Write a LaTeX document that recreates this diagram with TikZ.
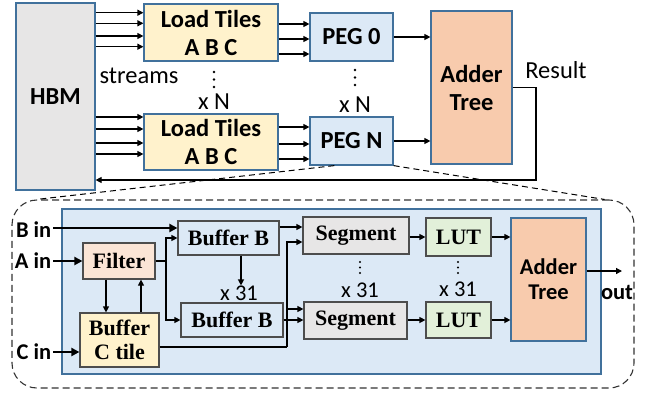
\documentclass[tikz,border=0pt]{standalone}
\usepackage{fontspec}
\usetikzlibrary{arrows.meta}
\setmainfont{Carlito}
\newfontfamily\peserif{Liberation Serif}

\definecolor{hbmgray}{HTML}{E7E6E6}
\definecolor{tileyellow}{HTML}{FFF2CC}
\definecolor{peblue}{HTML}{DCE9F6}
\definecolor{addorange}{HTML}{F8CBAD}
\definecolor{filterpink}{HTML}{FBE5D6}
\definecolor{lutgreen}{HTML}{E2F0D9}
\definecolor{edgeblue}{HTML}{41719C}
\definecolor{edgegray}{HTML}{4D4D4D}

\begin{document}
\begin{tikzpicture}[
    x=1pt, y=-1pt,
    >={Triangle[length=6pt, width=6pt]},
    topbox/.style={draw=edgeblue, line width=1.2pt, inner sep=0pt, align=center,
        font=\fontsize{24.5}{28}\selectfont\bfseries},
    pebox/.style={draw=edgegray, line width=1.2pt, inner sep=0pt, align=center,
        font=\fontsize{22}{24}\selectfont\peserif\bfseries},
    toplabel/.style={inner sep=0pt, font=\fontsize{24.5}{26}\selectfont},
    sublabel/.style={inner sep=0pt, font=\fontsize{22.5}{24}\selectfont},
    inlabel/.style={inner sep=1.5pt, anchor=east, font=\fontsize{22.5}{24}\selectfont\bfseries},
    link/.style={->, line width=1.2pt},
    feed/.style={-{Triangle[length=8pt, width=8pt]}, line width=2.8pt},
    zoomline/.style={line width=1pt, dash pattern=on 6pt off 4pt}
]
    \useasboundingbox (0,0) rectangle (650,397);

    % Top level: memory, loaders, PEGs, reduction
    \node[topbox, fill=hbmgray, minimum width=79pt, minimum height=187pt] (hbm) at (55.5,96.5) {HBM};
    \node[topbox, fill=tileyellow, minimum width=134pt, minimum height=57pt] (lt0) at (211,32.5) {Load Tiles\\A B C};
    \node[topbox, fill=tileyellow, minimum width=134pt, minimum height=56pt] (ltN) at (211,142) {Load Tiles\\A B C};
    \node[topbox, fill=peblue, minimum width=83pt, minimum height=48pt] (peg0) at (351.5,37) {PEG 0};
    \node[topbox, fill=peblue, minimum width=83pt, minimum height=48pt] (pegN) at (351.5,141) {PEG N};
    \node[topbox, fill=addorange, minimum width=81pt, minimum height=153pt] (add0) at (471.5,87.5) {Adder\\Tree};

    \node[toplabel] (streams) at (139,76) {streams};
    \node[toplabel] (repN0) at (214,102) {x N};
    \node[toplabel] (repN1) at (355,105) {x N};
    \node[toplabel] (result) at (556,70) {Result};
    \foreach \d in {0,7.5,15} {
        \fill (214,72+\d) circle (1.3pt);
        \fill (355,70+\d) circle (1.3pt);
    }

    % Streams out of HBM
    \foreach \y in {12.7,23.3,36,46.7}
        \draw[link] (hbm.east |- 0,\y) -- (lt0.west |- 0,\y);
    \foreach \y in {117,129,143,154}
        \draw[link] (hbm.east |- 0,\y) -- (ltN.west |- 0,\y);

    % Tiles into the PEGs
    \foreach \y in {24,39,54}
        \draw[link] (lt0.east |- 0,\y) -- (peg0.west |- 0,\y);
    \foreach \y in {127,144,159}
        \draw[link] (ltN.east |- 0,\y) -- (pegN.west |- 0,\y);
    \draw[link] (peg0.east) -- (add0.west |- peg0.east);
    \draw[link] (pegN.east) -- (add0.west |- pegN.east);

    % Result back to HBM
    \coordinate (ret) at (536,180);
    \draw[link] (add0.east) -| (ret) -- (hbm.east |- ret);

    % Inside one PEG
    \node[draw=black!80, line width=1.1pt, dash pattern=on 7pt off 4pt, rounded corners=25pt,
        minimum width=622pt, minimum height=188pt] (zoom) at (323,294) {};
    \draw[zoomline] ([xshift=25pt]pegN.south west) -- ([xshift=25pt]zoom.north west);
    \draw[zoomline] (pegN.south east) -- ([xshift=-30pt]zoom.north east);
    \node[draw=edgeblue, fill=peblue, line width=1.2pt, minimum width=539pt, minimum height=165pt] (pe) at (331.5,291.5) {};

    \node[pebox, fill=filterpink, minimum width=72pt, minimum height=36pt] (filter) at (119,261) {Filter};
    \node[pebox, fill=tileyellow, minimum width=79pt, minimum height=54pt] (bufC) at (119.5,340) {Buffer\\C tile};
    \node[pebox, fill=peblue, minimum width=101pt, minimum height=34pt] (bufB0) at (228.5,238) {Buffer B};
    \node[pebox, fill=peblue, minimum width=102pt, minimum height=34pt] (bufB1) at (232,320) {Buffer B};
    \node[pebox, fill=hbmgray, minimum width=106pt, minimum height=37pt] (seg0) at (356,235.5) {Segment};
    \node[pebox, fill=hbmgray, minimum width=103pt, minimum height=37pt] (seg1) at (355.5,320.5) {Segment};
    \node[pebox, fill=lutgreen, minimum width=65pt, minimum height=38pt] (lut0) at (458.5,237) {LUT};
    \node[pebox, fill=lutgreen, minimum width=65pt, minimum height=36pt] (lut1) at (458.5,320) {LUT};
    \node[topbox, fill=addorange, minimum width=75pt, minimum height=123pt,
        font=\fontsize{22.5}{25}\selectfont\bfseries] (add1) at (548.5,279.5) {Adder\\Tree};

    \node[sublabel] (rep0) at (239,293) {x 31};
    \node[sublabel] (rep1) at (360,290) {x 31};
    \node[sublabel] (rep2) at (458,289) {x 31};
    \foreach \d in {0,5.5,11} {
        \fill (360,262+\d) circle (1.2pt);
        \fill (458,262+\d) circle (1.2pt);
    }

    % Inputs
    \node[inlabel] (bin) at (53,230) {B in};
    \node[inlabel] (ain) at (53,261) {A in};
    \node[inlabel] (cin) at (53,352) {C in};
    \draw[feed] (bin.east |- 0,228) -- (bufB0.west |- 0,228);
    \draw[feed] (ain.east) -- (filter.west);
    \draw[feed] (cin.east) -- (bufC.west |- cin.east);

    % Filter and C buffer
    \draw[link] (filter.south -| 106,0) -- (bufC.north -| 106,0);
    \draw[link] (bufC.north -| 141,0) -- (filter.south -| 141,0);
    \coordinate (fsplit) at (166,261);
    \draw[line width=1.2pt] (filter.east) -- (fsplit);
    \draw[link] (fsplit) |- (bufB0.west);
    \draw[link] (fsplit) |- (bufB1.west);
    \draw[link] (bufB0.south -| 241,0) -- (rep0.north -| 241,0);

    % Into the segments
    \draw[link] (bufB0.east |- 0,227) -- (seg0.west |- 0,227);
    \draw[link] (bufB1.east) -- (seg1.west |- bufB1.east);
    \coordinate (csplit) at (287,347);
    \draw[line width=1.2pt] (bufC.east |- csplit) -- (csplit);
    \draw[link] (csplit) |- (seg0.west |- 0,242);
    \draw[link] (csplit |- 0,309) -- (seg1.west |- 0,309);

    % Lookup and reduction
    \draw[link] (seg0.east |- lut0.west) -- (lut0.west);
    \draw[link] (seg1.east |- lut1.west) -- (lut1.west);
    \draw[link] (lut0.east) -- (add1.west |- lut0.east);
    \draw[link] (lut1.east) -- (add1.west |- lut1.east);
    \coordinate (outp) at (622,271);
    \draw[link] (add1.east |- outp) -- (outp);
    \node[sublabel, font=\fontsize{22.5}{24}\selectfont\bfseries] (out) at (617,292) {out};
\end{tikzpicture}
\end{document}
